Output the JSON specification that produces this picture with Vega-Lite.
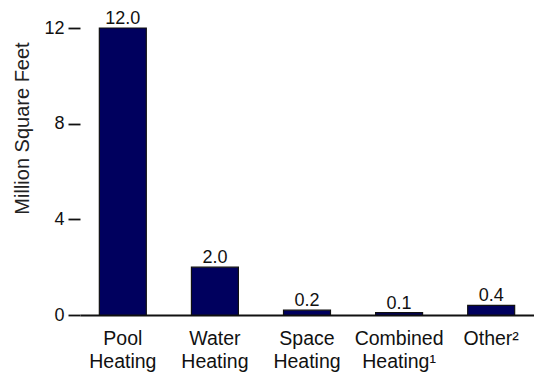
{
  "$schema": "https://vega.github.io/schema/vega-lite/v6.json",
  "width": 454,
  "height": 287,
  "autosize": {"type": "none"},
  "padding": {"left": 80, "top": 28, "right": 0, "bottom": 62},
  "background": "white",
  "config": {
    "view": {"stroke": null},
    "font": "Liberation Sans"
  },
  "data": {
    "values": [
      {"category": "Pool Heating", "value": 12.0},
      {"category": "Water Heating", "value": 2.0},
      {"category": "Space Heating", "value": 0.2},
      {"category": "Combined Heating", "value": 0.1},
      {"category": "Other", "value": 0.4}
    ]
  },
  "encoding": {
    "x": {
      "field": "category",
      "type": "nominal",
      "sort": null,
      "scale": {"paddingInner": 0.49, "paddingOuter": 0.21},
      "axis": {
        "title": null,
        "labelExpr": "datum.value == 'Combined Heating' ? ['Combined','Heating¹'] : datum.value == 'Other' ? ['Other²'] : split(datum.value, ' ')",
        "labelAngle": 0,
        "labelFontSize": 19.5,
        "labelColor": "#111",
        "labelLineHeight": 23,
        "labelPadding": 14,
        "ticks": false,
        "domainColor": "#111",
        "domainWidth": 1.8
      }
    },
    "y": {
      "field": "value",
      "type": "quantitative",
      "scale": {"domain": [0, 12], "nice": false},
      "axis": {
        "values": [0, 4, 8, 12],
        "title": "Million Square Feet",
        "titleFontSize": 20,
        "titleFontWeight": "normal",
        "titleColor": "#222",
        "titleAnchor": "middle",
        "titleX": -58,
        "titleY": 100,
        "titleBaseline": "middle",
        "labelFontSize": 18,
        "labelColor": "#111",
        "labelPadding": 4,
        "tickSize": 12,
        "tickColor": "#111",
        "tickWidth": 1.8,
        "domain": false,
        "grid": false
      }
    }
  },
  "layer": [
    {
      "mark": {"type": "bar", "color": "#00005e", "stroke": "#111111", "strokeWidth": 1.2}
    },
    {
      "mark": {"type": "text", "baseline": "alphabetic", "dy": -4, "fontSize": 18, "color": "#111"},
      "encoding": {
        "text": {"field": "value", "type": "quantitative", "format": ".1f"}
      }
    }
  ]
}
